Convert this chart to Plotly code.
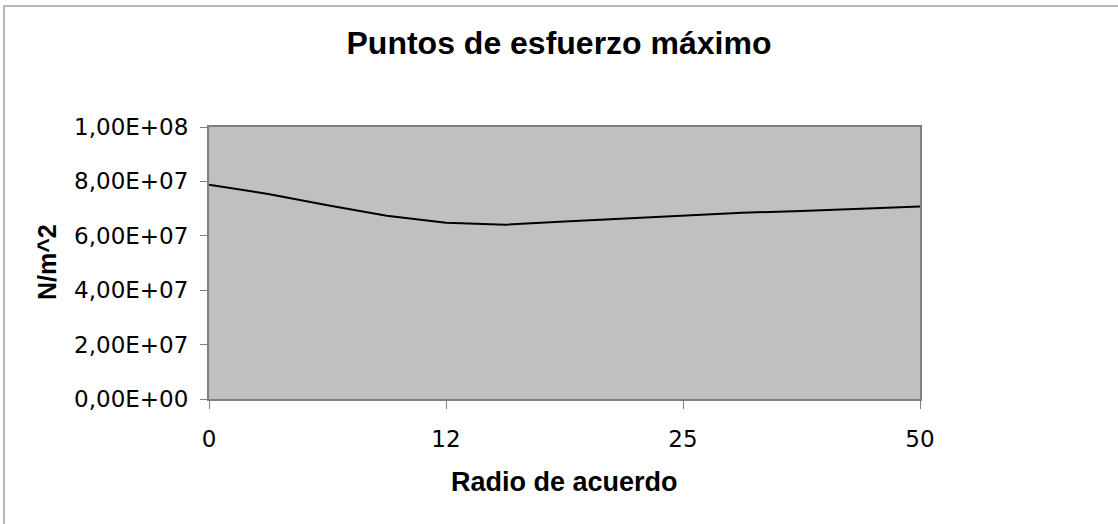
import plotly.graph_objects as go

# category positions along the x axis (only some are labelled)
x_idx = list(range(13))
stress = [78.8e6, 75.4e6, 71.2e6, 67.4e6, 64.8e6, 64.1e6, 65.3e6,
          66.3e6, 67.5e6, 68.5e6, 69.1e6, 69.9e6, 70.8e6]

x_tickvals = [0, 4, 8, 12]
x_ticktext = ["0", "12", "25", "50"]

y_tickvals = [0, 2e7, 4e7, 6e7, 8e7, 1e8]
y_ticktext = ["0,00E+00", "2,00E+07", "4,00E+07", "6,00E+07", "8,00E+07", "1,00E+08"]

W, H = 1118, 524
L, R, T, B = 209, 198, 127, 125
pw, ph = W - L - R, H - T - B
FONT = "Liberation Sans, Arial, sans-serif"
TICKFONT = "DejaVu Sans, sans-serif"

fig = go.Figure()
fig.add_trace(
    go.Scatter(
        x=x_idx,
        y=stress,
        mode="lines",
        line=dict(color="black", width=2),
        showlegend=False,
        hoverinfo="skip",
    )
)

fig.update_layout(
    width=W,
    height=H,
    margin=dict(l=L, r=R, t=T, b=B),
    paper_bgcolor="white",
    plot_bgcolor="#C0C0C0",
    font=dict(family=FONT, color="black", size=21),
    title=dict(
        text="<b>Puntos de esfuerzo máximo</b>",
        x=0.5, xanchor="center", xref="container",
        y=1 - 43 / H, yanchor="middle", yref="container",
        font=dict(size=32, family=FONT),
    ),
)

fig.update_xaxes(
    range=[0, 12],
    tickvals=x_tickvals,
    ticktext=x_ticktext,
    ticks="outside",
    ticklen=8,
    tickcolor="#808080",
    tickfont=dict(family=TICKFONT, size=23),
    ticklabelstandoff=10,
    showgrid=False,
    zeroline=False,
    showline=True,
    linecolor="#808080",
    linewidth=2,
    mirror=True,
)
fig.update_yaxes(
    range=[0, 1e8],
    tickvals=y_tickvals,
    ticktext=y_ticktext,
    ticks="outside",
    ticklen=7,
    tickcolor="#808080",
    tickfont=dict(family=TICKFONT, size=23),
    ticklabelstandoff=7,
    showgrid=False,
    zeroline=False,
    showline=True,
    linecolor="#808080",
    linewidth=2,
    mirror=True,
)

# axis titles
fig.add_annotation(
    text="<b>Radio de acuerdo</b>",
    xref="paper", yref="paper",
    x=0.5, y=-(482 - (T + ph)) / ph,
    xanchor="center", yanchor="middle",
    showarrow=False,
    font=dict(size=27, family=FONT),
)
fig.add_annotation(
    text="<b>N/m^2</b>",
    xref="paper", yref="paper",
    x=(47 - L) / pw, y=(T + ph - 262) / ph,
    xanchor="center", yanchor="middle",
    textangle=-90,
    showarrow=False,
    font=dict(size=25, family=FONT),
)

# chart frame
fig.add_shape(
    type="rect",
    xref="paper", yref="paper",
    x0=(4 - L) / pw, x1=(W + 10 - L) / pw,
    y0=(T + ph - (H + 10)) / ph, y1=(T + ph - 6) / ph,
    line=dict(color="#A0A0A0", width=1.5),
    fillcolor="rgba(0,0,0,0)",
    layer="below",
)

fig.write_html(
    "out.html",
    config={"displayModeBar": False},
    post_script="document.body.style.margin='0';document.body.style.overflow='hidden';",
)
